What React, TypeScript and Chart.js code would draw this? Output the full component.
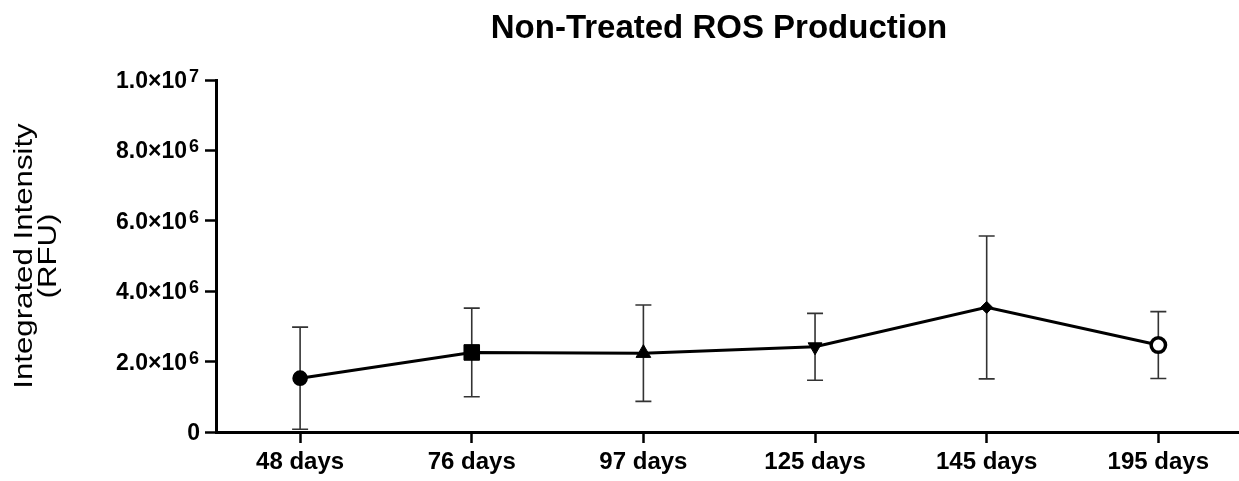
import React, { useEffect, useRef } from 'react';
import { Chart, registerables } from 'chart.js';

Chart.register(...registerables);

// ---- data ----
const categories = ['48 days', '76 days', '97 days', '125 days', '145 days', '195 days'];
const means = [1.53e6, 2.26e6, 2.24e6, 2.42e6, 3.54e6, 2.47e6];
const errors = [1.45e6, 1.26e6, 1.37e6, 0.95e6, 2.03e6, 0.95e6];
const yTickValues = [0, 2e6, 4e6, 6e6, 8e6, 1e7];
const chartTitle = 'Non-Treated ROS Production';
const yTitleLines = ['Integrated Intensity', '(RFU)'];

// ---- marker styling (one per category) ----
const markerShapes = ['circle', 'rect', 'triangle', 'triangle', 'rectRot', 'circle'];
const markerRotations = [0, 0, 0, 180, 0, 0];
const markerRadii = [7, 11, 8.5, 8, 6, 7.2];
const markerFills = ['#000', '#000', '#000', '#000', '#000', '#fff'];
const markerBorders = [1.6, 1, 1, 1, 1, 3.5];

const FONT = '"Liberation Sans", Arial, Helvetica, sans-serif';

const errorBarPlugin = {
  id: 'errorBars',
  beforeDatasetsDraw(chart: any) {
    const { ctx, scales } = chart;
    const x = scales.x;
    const y = scales.y;
    ctx.save();
    ctx.strokeStyle = '#333';
    ctx.lineWidth = 1.6;
    const cap = 8;
    means.forEach((m, i) => {
      const px = x.getPixelForValue(i);
      const top = y.getPixelForValue(m + errors[i]);
      const bot = y.getPixelForValue(Math.max(0, m - errors[i]));
      ctx.beginPath();
      ctx.moveTo(px, top);
      ctx.lineTo(px, bot);
      ctx.moveTo(px - cap, top);
      ctx.lineTo(px + cap, top);
      ctx.moveTo(px - cap, bot);
      ctx.lineTo(px + cap, bot);
      ctx.stroke();
    });
    ctx.restore();
  },
};

const textPlugin = {
  id: 'customText',
  afterDraw(chart: any) {
    const { ctx, chartArea, scales } = chart;
    const y = scales.y;
    ctx.save();
    ctx.fillStyle = '#000';

    // title
    ctx.font = `bold 33px ${FONT}`;
    ctx.textAlign = 'center';
    ctx.textBaseline = 'alphabetic';
    ctx.fillText(chartTitle, 719, 38);

    // y tick labels with superscript exponents
    const rightX = chartArea.left - 17;
    yTickValues.forEach((v) => {
      const py = y.getPixelForValue(v);
      if (v === 0) {
        ctx.font = `bold 23px ${FONT}`;
        ctx.textAlign = 'right';
        ctx.textBaseline = 'alphabetic';
        ctx.fillText('0', rightX + 1, py + 8);
        return;
      }
      const exp = Math.floor(Math.log10(v));
      const mant = (v / Math.pow(10, exp)).toFixed(1);
      const base = `${mant}\u00d710`;
      const sup = String(exp);
      ctx.font = `bold 18px ${FONT}`;
      const supW = ctx.measureText(sup).width;
      ctx.font = `bold 23px ${FONT}`;
      const baseW = ctx.measureText(base).width;
      ctx.textAlign = 'left';
      ctx.textBaseline = 'alphabetic';
      const gap = 2;
      const startX = rightX - supW - baseW - gap;
      const baseline = py + 8;
      ctx.fillText(base, startX, baseline);
      ctx.font = `bold 18px ${FONT}`;
      ctx.fillText(sup, startX + baseW + gap, baseline - 6);
    });

    // y axis title (two lines, rotated)
    const cy = (chartArea.top + chartArea.bottom) / 2;
    ctx.font = `26px ${FONT}`;
    ctx.textAlign = 'center';
    ctx.textBaseline = 'alphabetic';
    const baselines = [32, 56];
    yTitleLines.forEach((line, i) => {
      ctx.save();
      ctx.translate(baselines[i], cy);
      ctx.rotate(-Math.PI / 2);
      ctx.scale(1.2, 1);
      ctx.fillText(line, 0, 0);
      ctx.restore();
    });
    ctx.restore();
  },
};

export default function App() {
  const canvasRef = useRef<HTMLCanvasElement | null>(null);

  useEffect(() => {
    const canvas = canvasRef.current;
    if (!canvas) return;
    const chart = new Chart(canvas, {
      type: 'line',
      data: {
        datasets: [
          {
            data: means.map((m, i) => ({ x: i, y: m })),
            borderColor: '#000',
            borderWidth: 3,
            tension: 0,
            pointStyle: markerShapes as any,
            pointRotation: markerRotations,
            pointRadius: markerRadii,
            pointHoverRadius: markerRadii,
            pointBackgroundColor: markerFills,
            pointBorderColor: '#000',
            pointBorderWidth: markerBorders,
            clip: false as any,
          },
        ],
      },
      options: {
        animation: false,
        responsive: true,
        maintainAspectRatio: false,
        layout: { autoPadding: false, padding: { top: 80, left: 0, right: 0, bottom: 0 } },
        plugins: {
          legend: { display: false },
          title: { display: false },
          tooltip: { enabled: false },
        },
        scales: {
          x: {
            type: 'linear',
            min: -0.49,
            max: 5.47,
            afterBuildTicks: (scale: any) => {
              scale.ticks = categories.map((_, i) => ({ value: i }));
            },
            afterFit: (scale: any) => {
              scale.height = 49;
              scale.paddingLeft = 0;
              scale.paddingRight = 0;
            },
            ticks: {
              callback: (v: any) => categories[v] ?? '',
              color: '#000',
              font: { family: FONT, size: 24, weight: 'bold' },
              padding: 5,
              maxRotation: 0,
              autoSkip: false,
            },
            grid: {
              display: true,
              drawOnChartArea: false,
              drawTicks: true,
              tickLength: 11,
              tickWidth: 2.5,
              tickColor: '#000',
            },
            border: { display: true, color: '#000', width: 3 },
          },
          y: {
            type: 'linear',
            min: 0,
            max: 1e7,
            afterBuildTicks: (scale: any) => {
              scale.ticks = yTickValues.map((v) => ({ value: v }));
            },
            afterFit: (scale: any) => {
              scale.width = 216;
              scale.paddingTop = 0;
              scale.paddingBottom = 0;
            },
            ticks: {
              callback: () => '',
            },
            grid: {
              display: true,
              drawOnChartArea: false,
              drawTicks: true,
              tickLength: 11,
              tickWidth: 2.5,
              tickColor: '#000',
            },
            border: { display: true, color: '#000', width: 3 },
          },
        },
      },
      plugins: [errorBarPlugin, textPlugin],
    });
    return () => chart.destroy();
  }, []);

  return (
    <div style={{ position: 'absolute', left: 0, top: 0, width: 1239, height: 481, background: '#fff' }}>
      <canvas ref={canvasRef} />
    </div>
  );
}
